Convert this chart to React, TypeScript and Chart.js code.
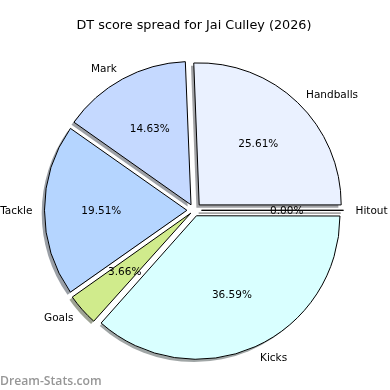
import React, { useEffect, useRef } from "react";
import { Chart, registerables } from "chart.js";

Chart.register(...registerables);

const TITLE = "DT score spread for Jai Culley (2026)";
const WATERMARK = "Dream-Stats.com";
// Chart.js draws clockwise from 3 o'clock here (rotation 90), so order is reversed vs. matplotlib
const categories = ["Kicks", "Goals", "Tackle", "Mark", "Handballs", "Hitout"];
const values = [36.59, 3.66, 19.51, 14.63, 25.61, 0.0];
const colors = ["#d9ffff", "#d0eb8c", "#b5d5ff", "#c5d9ff", "#eaf1ff", "#ffffff"];

const EXPLODE = 7.5;
const RADIUS = 142;
const LABEL_DIST = 161.5;
const SHADOW_DX = -2.8;
const SHADOW_DY = 2.8;
const FONT = "'DejaVu Sans', sans-serif";

const total = values.reduce((a, b) => a + b, 0);

function offsetFor(v: number) {
  const circ = (2 * Math.PI * v) / total;
  const fix = 1 - Math.sin(Math.min(Math.PI, circ));
  return (4 * EXPLODE) / (1 + fix);
}

function hexToRgb(h: string) {
  const n = parseInt(h.slice(1), 16);
  return [(n >> 16) & 255, (n >> 8) & 255, n & 255];
}

function arcPath(ctx: CanvasRenderingContext2D, arc: any, dx: number, dy: number) {
  const p = arc.getProps(["x", "y", "startAngle", "endAngle", "outerRadius"], true);
  const mid = (p.startAngle + p.endAngle) / 2;
  const cx = p.x + Math.cos(mid) * EXPLODE + dx;
  const cy = p.y + Math.sin(mid) * EXPLODE + dy;
  ctx.beginPath();
  ctx.moveTo(cx, cy);
  ctx.arc(cx, cy, p.outerRadius, p.startAngle, p.endAngle);
  ctx.closePath();
}

const piePlugin = {
  id: "pieExtras",
  beforeDatasetsDraw(chart: any) {
    const ctx = chart.ctx as CanvasRenderingContext2D;
    const meta = chart.getDatasetMeta(0);
    meta.data.forEach((arc: any, i: number) => {
      const [r, g, b] = hexToRgb(colors[i]);
      const col = `rgb(${Math.round(r * 0.3)},${Math.round(g * 0.3)},${Math.round(b * 0.3)})`;
      ctx.save();
      ctx.globalAlpha = 0.5;
      arcPath(ctx, arc, SHADOW_DX, SHADOW_DY);
      ctx.fillStyle = col;
      ctx.fill();
      ctx.restore();
    });
  },
  afterDatasetsDraw(chart: any) {
    const ctx = chart.ctx as CanvasRenderingContext2D;
    const meta = chart.getDatasetMeta(0);
    meta.data.forEach((arc: any, i: number) => {
      if (values[i] === 0) {
        ctx.save();
        ctx.globalAlpha = 0.5;
        arcPath(ctx, arc, SHADOW_DX, SHADOW_DY);
        ctx.strokeStyle = "rgb(77,77,77)";
        ctx.lineWidth = 1;
        ctx.stroke();
        ctx.restore();
        ctx.save();
        arcPath(ctx, arc, 0, 0);
        ctx.strokeStyle = "#000";
        ctx.lineWidth = 1;
        ctx.stroke();
        ctx.restore();
      }
    });
  },
  afterDraw(chart: any) {
    const ctx = chart.ctx as CanvasRenderingContext2D;
    const meta = chart.getDatasetMeta(0);
    ctx.save();
    ctx.fillStyle = "#000";
    ctx.textBaseline = "middle";
    ctx.font = `10.5px ${FONT}`;
    meta.data.forEach((arc: any, i: number) => {
      const p = arc.getProps(["x", "y", "startAngle", "endAngle", "outerRadius"], true);
      const mid = (p.startAngle + p.endAngle) / 2;
      const c = Math.cos(mid);
      const s = Math.sin(mid);
      ctx.textAlign = c >= -1e-9 ? "left" : "right";
      ctx.fillText(categories[i], p.x + c * LABEL_DIST, p.y + s * LABEL_DIST + 1);
      const dp = 0.6 * p.outerRadius + EXPLODE;
      ctx.textAlign = "center";
      const pct = ((values[i] / total) * 100).toFixed(2) + "%";
      ctx.fillText(pct, p.x + c * dp, p.y + s * dp + 0.5);
    });
    ctx.font = `600 12.2px 'Open Sans', sans-serif`;
    ctx.fillStyle = "rgb(150,150,150)";
    ctx.textAlign = "left";
    ctx.textBaseline = "alphabetic";
    ctx.fillText(WATERMARK, 0, 384.5);
    ctx.restore();
  },
};

export default function App() {
  const ref = useRef<HTMLCanvasElement | null>(null);
  useEffect(() => {
    document.body.style.margin = "0";
    const canvas = ref.current;
    if (!canvas) return;
    const chart = new Chart(canvas, {
      type: "pie",
      data: {
        labels: categories,
        datasets: [
          {
            data: values,
            backgroundColor: colors,
            borderColor: "#000",
            borderWidth: 1,
            offset: (ctx: any) => offsetFor(values[ctx.dataIndex]),
            hoverOffset: (ctx: any) => offsetFor(values[ctx.dataIndex]),
          },
        ],
      },
      options: {
        animation: false,
        responsive: false,
        devicePixelRatio: 1,
        rotation: 90,
        radius: RADIUS,
        layout: { padding: { left: 0, right: 2, top: 0, bottom: 2.76 } },
        plugins: {
          legend: { display: false },
          tooltip: { enabled: false },
          title: {
            display: true,
            text: TITLE,
            color: "#000",
            font: { family: FONT, size: 12.8, weight: "normal", lineHeight: 1.2 },
            padding: { top: 18, bottom: 0 },
          },
        },
        events: [],
      } as any,
      plugins: [piePlugin],
    });
    return () => chart.destroy();
  }, []);
  return (
    <div style={{ position: "fixed", left: 0, top: 0, width: 390, height: 390, background: "#fff" }}>
      <canvas ref={ref} width={390} height={390} />
    </div>
  );
}
